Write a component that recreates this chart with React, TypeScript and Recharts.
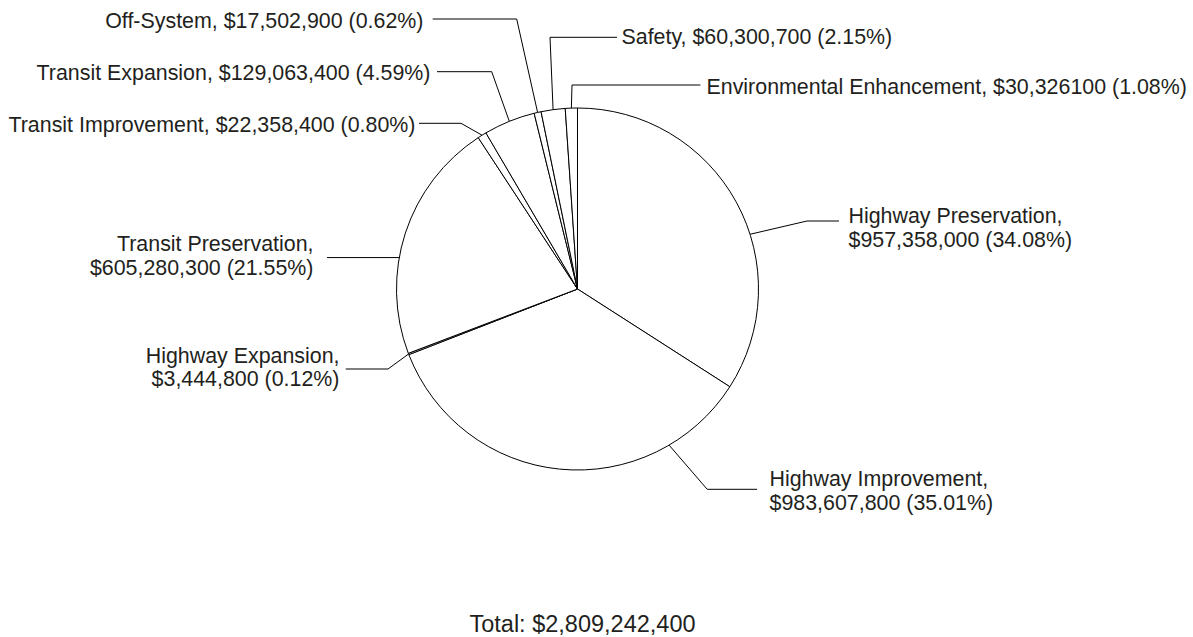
import { PieChart, Pie, Cell } from "recharts";

const categories = [
  "Highway Preservation",
  "Highway Improvement",
  "Highway Expansion",
  "Transit Preservation",
  "Transit Improvement",
  "Transit Expansion",
  "Off-System",
  "Safety",
  "Environmental Enhancement",
];

const amounts = [957358000, 983607800, 3444800, 605280300, 22358400, 129063400, 17502900, 60300700, 30326100];

// amount text as printed in the original (typo in the last one kept)
const amountLabels = [
  "$957,358,000",
  "$983,607,800",
  "$3,444,800",
  "$605,280,300",
  "$22,358,400",
  "$129,063,400",
  "$17,502,900",
  "$60,300,700",
  "$30,326100",
];

const percentLabels = ["34.08%", "35.01%", "0.12%", "21.55%", "0.80%", "4.59%", "0.62%", "2.15%", "1.08%"];

const totalLabel = "Total: $2,809,242,400";

const data = categories.map((name, i) => ({ name, value: amounts[i] }));

// leader line layout, offsets relative to the pie centre
// anchor: clockwise degrees from 12 o'clock (falls back to the slice midAngle)
type Layout = {
  anchor?: number;
  elbow?: [number, number];
  end: number;
  tx: number;
  ty: number;
  side: "start" | "end";
  lines: 1 | 2;
};

const layout: Layout[] = [
  { anchor: 72.4, elbow: [229.5, -68], end: 261.5, tx: 271, ty: 2.3, side: "start", lines: 2 },
  { anchor: 149.6, elbow: [129.7, 200.3], end: 179.5, tx: 192, ty: -3, side: "start", lines: 2 },
  { elbow: [-189.5, 80], end: -231.8, tx: -238, ty: -6.5, side: "end", lines: 2 },
  { anchor: 280, end: -250.5, tx: -264, ty: -6.2, side: "end", lines: 2 },
  { elbow: [-116.5, -165.7], end: -158.5, tx: -162, ty: 8.2, side: "end", lines: 1 },
  { elbow: [-85.8, -217.3], end: -140.5, tx: -147, ty: 8.1, side: "end", lines: 1 },
  { elbow: [-60.8, -270], end: -144.8, tx: -154, ty: 9.2, side: "end", lines: 1 },
  { elbow: [-27.5, -251.7], end: 39.5, tx: 44, ty: 6.9, side: "start", lines: 1 },
  { elbow: [-5.5, -204], end: 122.9, tx: 129, ty: 9.2, side: "start", lines: 1 },
];

const TEXT = "#231f20";
const FONT = 21.4;
const LINE_GAP = 23.5;

const renderLabel = (props: any) => {
  const { cx, cy, midAngle, outerRadius, index } = props;
  const l = layout[index];
  const cw = l.anchor !== undefined ? l.anchor : 90 - midAngle;
  const rad = (cw * Math.PI) / 180;
  const ax = cx + outerRadius * Math.sin(rad);
  const ay = cy - outerRadius * Math.cos(rad);
  const ex = l.elbow ? cx + l.elbow[0] : ax;
  const ey = l.elbow ? cy + l.elbow[1] : ay;
  const tx = cx + l.tx;
  const ty = ey + l.ty;
  const head = `${categories[index]},`;
  const tail = `${amountLabels[index]} (${percentLabels[index]})`;
  return (
    <g key={`lbl-${index}`}>
      <polyline
        points={`${ax},${ay} ${ex},${ey} ${cx + l.end},${ey}`}
        fill="none"
        stroke="#000"
        strokeWidth={1}
      />
      {l.lines === 2 ? (
        <text x={tx} y={ty} fill={TEXT} fontSize={FONT} textAnchor={l.side}>
          <tspan x={tx}>{head}</tspan>
          <tspan x={tx} dy={LINE_GAP}>
            {tail}
          </tspan>
        </text>
      ) : (
        <text x={tx} y={ty} fill={TEXT} fontSize={FONT} textAnchor={l.side}>
          {`${head} ${tail}`}
        </text>
      )}
    </g>
  );
};

export default function App() {
  return (
    <div
      style={{
        position: "absolute",
        left: 0,
        top: 0,
        width: 1193,
        height: 637,
        background: "#fff",
        fontFamily: "'Liberation Sans', Arial, sans-serif",
      }}
    >
      <PieChart width={1193} height={637} margin={{ top: 0, right: 0, bottom: 0, left: 0 }}>
        <Pie
          data={data}
          dataKey="value"
          nameKey="name"
          cx={577.5}
          cy={289}
          outerRadius={181}
          startAngle={90}
          endAngle={-270}
          stroke="#000"
          strokeWidth={1}
          labelLine={false}
          label={renderLabel}
          isAnimationActive={false}
        >
          {data.map((_, i) => (
            <Cell key={i} fill="#fff" />
          ))}
        </Pie>
      </PieChart>
      <svg width={1193} height={637} style={{ position: "absolute", left: 0, top: 0, pointerEvents: "none" }}>
        <text x={582.5} y={632} fill={TEXT} fontSize={23.5} textAnchor="middle" fontFamily="'Liberation Sans', Arial, sans-serif">
          {totalLabel}
        </text>
      </svg>
    </div>
  );
}
